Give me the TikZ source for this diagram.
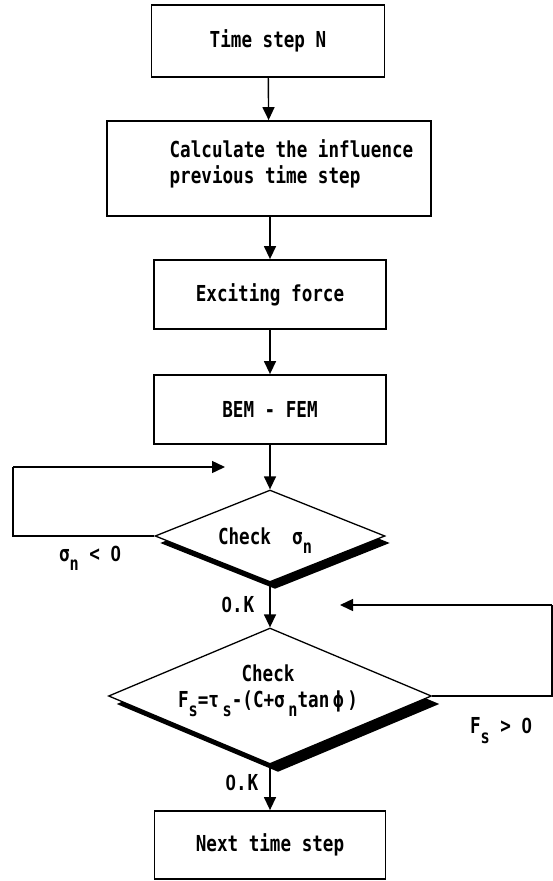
\documentclass[tikz,border=0pt]{standalone}
\usepackage{fontspec}
\setmainfont{DejaVu Sans Mono}[FakeStretch=0.8]
\newfontfamily\zerofont{Liberation Sans}[FakeStretch=0.85]
\usetikzlibrary{arrows.meta,shapes.geometric,shadows}
\newcommand\lowr[1]{\smash{\raisebox{-0.42em}{\fontsize{19}{19}\selectfont #1}}}
\newcommand\zro{{\zerofont\bfseries 0}}
\newcommand\txtfont{\fontsize{22}{26}\selectfont\bfseries}
\begin{document}
\begin{tikzpicture}[x=1pt,y=-1pt,
  stepbox/.style={draw,line width=1.8pt,fill=white,inner sep=0pt,font=\txtfont},
  decision/.style={diamond,draw,line width=1.3pt,fill=white,inner sep=0pt},
  txt/.style={inner sep=0pt,font=\txtfont,align=center},
  arr/.style={line width=1.4pt,-{Triangle[length=13pt,width=12pt]}},
  line/.style={line width=1.4pt}]
\useasboundingbox (0,0) rectangle (553,881);
\fill[white] (0,0) rectangle (553,881);

\node[stepbox,minimum width=233pt,minimum height=72pt] (b1) at (268,41) {Time step N};
\node[stepbox,minimum width=324pt,minimum height=95pt] (b2) at (269,168.5) {};
\node[txt,align=left] (b2t) at (291.5,164) {Calculate the influence\\previous time step};
\node[stepbox,minimum width=232pt,minimum height=69pt] (b3) at (270,294.5) {Exciting force};
\node[stepbox,minimum width=232pt,minimum height=69pt] (b4) at (270,409.5) {BEM - FEM};

\node[decision,minimum width=230pt,minimum height=92pt,
  drop shadow={shadow xshift=5pt,shadow yshift=-7pt,fill=black,opacity=1}] (d1) at (270,536) {};
\node[txt] (d1t) at (265,536) {Check~~σ\lowr{n}};

\node[decision,minimum width=323pt,minimum height=136pt,
  drop shadow={shadow xshift=8pt,shadow yshift=-8pt,fill=black,opacity=1}] (d2) at (270,696) {};
\node[txt] (d2t) at (268,688) {Check\\F\lowr{s}=τ\,\lowr{s}-(C+σ\,\lowr{n}tan\,ϕ\,)};

\node[stepbox,minimum width=231pt,minimum height=68pt] (b5) at (270,845) {Next time step};

\draw[arr] (b1) -- (b2);
\draw[arr] (b2.south -| b3.north) -- (b3.north);
\draw[arr] (b3) -- (b4);
\draw[arr] (b4) -- (d1.north);
\draw[arr] (d1.south) -- (d2.north);
\draw[arr] (d2.south) -- (b5.north);

\coordinate (l1) at (13,536);
\coordinate (l2) at (13,467);
\coordinate (l3) at (225,467);
\draw[line] (d1.west) -- (l1) -- (l2);
\draw[arr] (l2) -- (l3);

\coordinate (r1) at (552,696);
\coordinate (r2) at (552,605);
\coordinate (r3) at (340,605);
\draw[line] (d2.east) -- (r1) -- (r2);
\draw[arr] (r2) -- (r3);

\node[txt] (lab1) at (90,554) {σ\lowr{n} < \zro};
\node[txt] (lab2) at (238,605) {\zro.\hspace{1pt}K};
\node[txt] (lab3) at (501,726) {F\lowr{s} > \zro};
\node[txt] (lab4) at (242,783) {\zro.\hspace{1pt}K};
\end{tikzpicture}
\end{document}
